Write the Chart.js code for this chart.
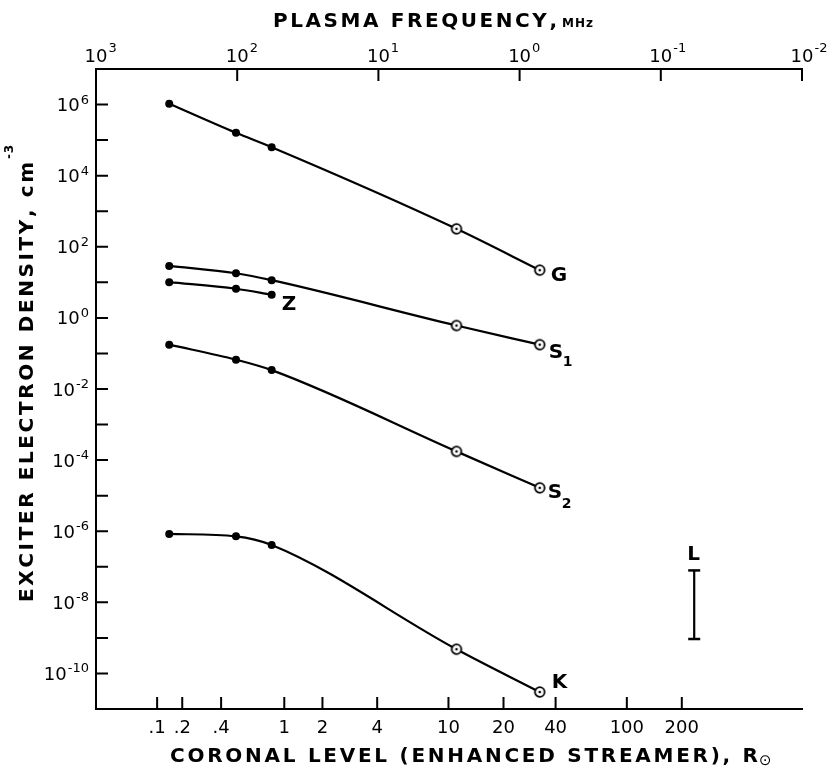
<!DOCTYPE html>
<html>
<head>
<meta charset="utf-8">
<script src="https://cdn.jsdelivr.net/npm/chart.js@4"></script>
<style>
html, body { margin: 0; padding: 0; background: #fff; }
</style>
</head>
<body>
<canvas id="myChart" width="833" height="774"></canvas>
<script>
const ctx = document.getElementById('myChart').getContext('2d');

// plasma frequency (MHz) of the five measured levels
const plasmaFreq = [303, 102, 57, 2.8, 0.72];

const densityG = [1.05e6, 1.6e5, 6.3e4, 320, 22];
const densityS1 = [29, 18, 11.5, 0.61, 0.177];
const densityZ = [10.1, 6.6, 4.5];
const densityS2 = [0.177, 0.067, 0.034, 1.76e-4, 1.66e-5];
const densityK = [8.4e-7, 7.2e-7, 4.1e-7, 4.8e-10, 3.0e-11];

const rangeLFreq = 0.058;
const rangeL = [9.3e-10, 7.9e-8];

const freqTicks = [1000, 100, 10, 1, 0.1, 0.01];
const densityTicks = [1e7, 1e6, 1e5, 1e4, 1e3, 1e2, 1e1, 1e0, 1e-1, 1e-2, 1e-3,
    1e-4, 1e-5, 1e-6, 1e-7, 1e-8, 1e-9, 1e-10, 1e-11];
const densityLabelled = [1e6, 1e4, 1e2, 1e0, 1e-2, 1e-4, 1e-6, 1e-8, 1e-10];

// bottom axis: coronal level (R sun) and the plasma frequency it sits at
const coronalLevels = ['.1', '.2', '.4', '1', '2', '4', '10', '20', '40', '100', '200'];
const coronalFreq = [369, 245, 130, 46.4, 24.9, 10.2, 3.19, 1.30, 0.556, 0.174, 0.071];

const FONT = '"DejaVu Sans", sans-serif';

const expOf = v => String(Math.round(Math.log10(v)));

// open circle with a centre dot
function sunMarker() {
    const c = document.createElement('canvas');
    c.width = 14; c.height = 14;
    const g = c.getContext('2d');
    g.beginPath();
    g.arc(7, 7, 4.8, 0, 2 * Math.PI);
    g.fillStyle = '#fff';
    g.fill();
    g.lineWidth = 1.8;
    g.strokeStyle = '#000';
    g.stroke();
    g.beginPath();
    g.arc(7, 7, 1.3, 0, 2 * Math.PI);
    g.fillStyle = '#000';
    g.fill();
    return c;
}
const sun = sunMarker();
const markers = ['circle', 'circle', 'circle', sun, sun];

function series(name, values) {
    return {
        label: name,
        data: values.map((v, i) => ({x: plasmaFreq[i], y: v})),
        borderColor: '#000',
        backgroundColor: '#000',
        borderWidth: 2.2,
        pointStyle: markers.slice(0, values.length),
        pointRadius: 4,
        pointBorderWidth: 0,
        cubicInterpolationMode: 'monotone'
    };
}

// draws spaced text from x0 so it ends at x1
function fitText(c, text, x0, x1, y) {
    const chars = text.split('');
    const w = chars.reduce((s, ch) => s + c.measureText(ch).width, 0);
    const sp = (x1 - x0 - w) / (chars.length - 1);
    let x = x0;
    chars.forEach(ch => {
        c.fillText(ch, x, y);
        x += c.measureText(ch).width + sp;
    });
}

const decorations = {
    id: 'decorations',
    afterDraw(chart) {
        const c = chart.ctx;
        const a = chart.chartArea;
        const s = chart.scales;
        c.save();
        c.strokeStyle = '#000';
        c.lineWidth = 2;
        c.beginPath();
        s.y.ticks.forEach(t => {
            const p = s.y.getPixelForValue(t.value);
            c.moveTo(a.left, p); c.lineTo(a.left + 12, p);
        });
        s.x.ticks.forEach(t => {
            const p = s.x.getPixelForValue(t.value);
            c.moveTo(p, a.bottom); c.lineTo(p, a.bottom - 12);
        });
        s.x2.ticks.forEach(t => {
            const p = s.x2.getPixelForValue(t.value);
            c.moveTo(p, a.top); c.lineTo(p, a.top + 12);
        });
        c.stroke();

        c.fillStyle = '#000';
        c.textBaseline = 'alphabetic';

        // power-of-ten tick labels with raised exponents
        const base = '18px ' + FONT;
        const expo = '13px ' + FONT;
        freqTicks.forEach(v => {
            const p = s.x2.getPixelForValue(v);
            c.font = base; c.textAlign = 'center';
            c.fillText('10', p, 62);
            const w = c.measureText('10').width;
            c.font = expo; c.textAlign = 'left';
            c.fillText(expOf(v), p + w / 2 + 1, 52);
        });
        densityLabelled.forEach(v => {
            const p = s.y.getPixelForValue(v);
            c.font = expo; c.textAlign = 'right';
            const e = expOf(v);
            c.fillText(e, 89, p - 1);
            const w = c.measureText(e).width;
            c.font = base;
            c.fillText('10', 89 - w - 1, p + 6.5);
        });

        c.textAlign = 'left';
        // series labels next to their end points
        const end = i => {
            const d = chart.getDatasetMeta(i).data;
            return d[d.length - 1];
        };
        const big = 'bold 20px ' + FONT;
        const small = 'bold 14px ' + FONT;
        let p = end(0);
        c.font = big; c.fillText('G', p.x + 11, p.y + 11);
        p = end(1);
        c.fillText('S', p.x + 9, p.y + 13);
        c.font = small; c.fillText('1', p.x + 23, p.y + 21);
        p = end(2);
        c.font = big; c.fillText('Z', p.x + 10, p.y + 15);
        p = end(3);
        c.fillText('S', p.x + 8, p.y + 10);
        c.font = small; c.fillText('2', p.x + 22, p.y + 20);
        p = end(4);
        c.font = big; c.fillText('K', p.x + 12, p.y - 4);
        p = end(5);
        c.fillText('L', p.x - 7, p.y - 10);

        // axis titles
        c.font = 'bold 20px ' + FONT;
        fitText(c, 'PLASMA FREQUENCY,', 273, 557, 27);
        c.font = 'bold 12px ' + FONT;
        fitText(c, 'MHz', 562, 593, 27);

        c.font = 'bold 20px ' + FONT;
        fitText(c, 'CORONAL LEVEL (ENHANCED STREAMER), R', 170, 758, 762);
        c.font = '15px ' + FONT;
        c.textBaseline = 'middle';
        c.fillText('\u2299', 759, 761);
        c.textBaseline = 'alphabetic';

        c.translate(33, 602);
        c.rotate(-Math.PI / 2);
        c.font = 'bold 20px ' + FONT;
        fitText(c, 'EXCITER ELECTRON DENSITY, cm', 0, 440, 0);
        c.font = 'bold 12px ' + FONT;
        fitText(c, '-3', 443, 457, -20);
        c.restore();
    }
};

const myChart = new Chart(ctx, {
    type: 'line',
    data: {
        datasets: [
            series('G', densityG),
            series('S1', densityS1),
            series('Z', densityZ),
            series('S2', densityS2),
            series('K', densityK),
            {
                label: 'L',
                data: rangeL.map(v => ({x: rangeLFreq, y: v})),
                borderColor: '#000',
                backgroundColor: '#000',
                borderWidth: 2.2,
                pointStyle: 'line',
                pointRadius: 6,
                pointBorderWidth: 2.5
            }
        ]
    },
    options: {
        responsive: false,
        animation: false,
        layout: {padding: {right: 31}},
        plugins: {
            legend: {display: false},
            tooltip: {enabled: false}
        },
        scales: {
            x: {
                type: 'logarithmic',
                position: 'bottom',
                reverse: true,
                min: 0.01,
                max: 1000,
                afterBuildTicks: s => { s.ticks = coronalFreq.map(v => ({value: v})); },
                afterFit: s => { s.height = 65; },
                grid: {display: false, drawTicks: false},
                border: {color: '#000', width: 2},
                ticks: {
                    autoSkip: false, maxRotation: 0, minRotation: 0, padding: 9,
                    color: '#000', font: {family: FONT, size: 18},
                    callback: (v, i) => coronalLevels[i]
                }
            },
            x2: {
                type: 'logarithmic',
                position: 'top',
                reverse: true,
                min: 0.01,
                max: 1000,
                afterBuildTicks: s => { s.ticks = freqTicks.map(v => ({value: v})); },
                afterFit: s => { s.height = 69; },
                grid: {display: false, drawTicks: false},
                border: {color: '#000', width: 2},
                ticks: {display: false}
            },
            y: {
                type: 'logarithmic',
                min: 1e-11,
                max: 1e7,
                afterBuildTicks: s => { s.ticks = densityTicks.map(v => ({value: v})); },
                afterFit: s => { s.width = 96; },
                grid: {display: false, drawTicks: false},
                border: {color: '#000', width: 2},
                ticks: {display: false}
            }
        }
    },
    plugins: [decorations]
});
</script>
</body>
</html>
